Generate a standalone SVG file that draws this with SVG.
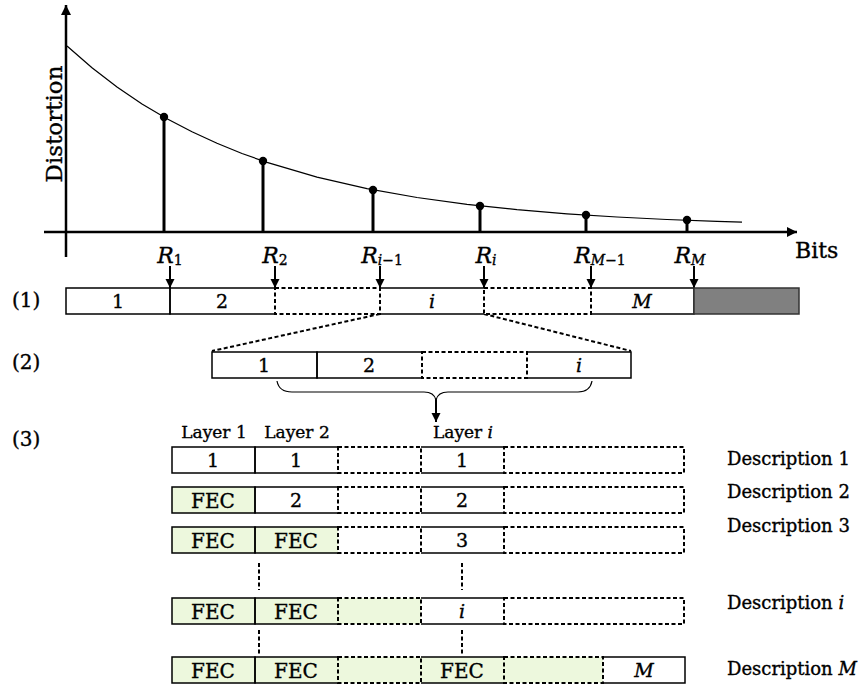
<svg xmlns="http://www.w3.org/2000/svg" width="867" height="684" viewBox="0 0 867 684">
<style>
text{font-family:"DejaVu Serif","Liberation Serif",serif;fill:#000;stroke:#000;stroke-width:0.35}
.it{font-style:italic}
.s{fill:none;stroke:#000;stroke-width:1.5}
.d{stroke:#000;stroke-width:2;stroke-dasharray:4 2.5}
.w{fill:#fff}
.g{fill:#edf8dd}
.nf{stroke:none}
.ax{fill:none;stroke:#000;stroke-width:2.5}
.stem{stroke:#000;stroke-width:3}
.arr{stroke:#000;stroke-width:2;marker-end:url(#ah)}
.dl{fill:none;stroke:#000;stroke-width:2;stroke-dasharray:4 2.5}
.lbl{font-size:20px}
.num{font-size:19px;text-anchor:middle}
.fec{font-size:20px;text-anchor:middle}
.r{font-size:22px;font-style:italic}
.sub{font-size:14px}
.desc{font-size:18px}
</style>
<defs>
<marker id="ah" viewBox="0 0 10 10" refX="10" refY="5" markerWidth="9" markerHeight="10" markerUnits="userSpaceOnUse" orient="auto"><path d="M0,0 L10,5 L0,10 z" fill="#000"/></marker>
<marker id="axh" viewBox="0 0 10 10" refX="10" refY="5" markerWidth="10" markerHeight="10" markerUnits="userSpaceOnUse" orient="auto"><path d="M0,0 L10,5 L0,10 z" fill="#000"/></marker>
</defs>

<g id="chart">
<line class="ax" x1="66" y1="257" x2="66" y2="5" marker-end="url(#axh)"/>
<line class="ax" x1="44" y1="232" x2="797" y2="232" marker-end="url(#axh)"/>
<polyline fill="none" stroke="#000" stroke-width="1.2" points="67,46 92,67.8 117,87 142,103.9 167,118.7 192,131.8 217,143.3 242,153.5 267,162.4 317,177.1 367,188.6 417,197.5 467,204.3 517,209.7 567,213.8 617,217 667,219.5 717,221.4 742,222.2"/>
<line class="stem" x1="164" y1="117" x2="164" y2="232"/>
<line class="stem" x1="263" y1="161" x2="263" y2="232"/>
<line class="stem" x1="373" y1="190" x2="373" y2="232"/>
<line class="stem" x1="480" y1="206" x2="480" y2="232"/>
<line class="stem" x1="586" y1="215" x2="586" y2="232"/>
<line class="stem" x1="687" y1="220" x2="687" y2="232"/>
<circle cx="164" cy="117" r="4.2"/>
<circle cx="263" cy="161" r="4.2"/>
<circle cx="373" cy="190" r="4.2"/>
<circle cx="480" cy="206" r="4.2"/>
<circle cx="586" cy="215" r="4.2"/>
<circle cx="687" cy="220" r="4.2"/>
<text transform="translate(62,124) rotate(-90)" text-anchor="middle" font-size="23">Distortion</text>
<text x="795" y="258" font-size="22">Bits</text>
</g>

<g id="rate-labels">
<text class="r" x="170" y="263" text-anchor="middle">R<tspan class="sub" font-style="normal" dy="2">1</tspan></text>
<text class="r" x="275" y="263" text-anchor="middle">R<tspan class="sub" font-style="normal" dy="2">2</tspan></text>
<text class="r" x="382" y="263" text-anchor="middle">R<tspan class="sub" dy="2">i</tspan><tspan class="sub" font-style="normal">−1</tspan></text>
<text class="r" x="486" y="263" text-anchor="middle">R<tspan class="sub" dy="2">i</tspan></text>
<text class="r" x="600" y="263" text-anchor="middle">R<tspan class="sub" dy="2">M</tspan><tspan class="sub" font-style="normal">−1</tspan></text>
<text class="r" x="690" y="263" text-anchor="middle">R<tspan class="sub" dy="2">M</tspan></text>
</g>

<g id="connectors">
<line class="arr" x1="170" y1="266" x2="170" y2="288"/>
<line class="arr" x1="275" y1="266" x2="275" y2="288"/>
<line class="arr" x1="380" y1="266" x2="380" y2="288"/>
<line class="arr" x1="484" y1="266" x2="484" y2="288"/>
<line class="arr" x1="591" y1="266" x2="591" y2="288"/>
<line class="arr" x1="694" y1="266" x2="694" y2="288"/>
<line class="dl" x1="380" y1="314" x2="212" y2="351"/>
<line class="dl" x1="484" y1="314" x2="631" y2="351"/>
<path d="M277,381 Q279,392 292,392 H424 Q434,392 436,400 Q438,392 448,392 H578 Q590,392 592,381" fill="none" stroke="#000" stroke-width="1.2"/>
<line class="arr" x1="436" y1="399" x2="436" y2="422"/>
<line class="dl" x1="259" y1="563" x2="259" y2="590"/>
<line class="dl" x1="462" y1="563" x2="462" y2="590"/>
<line class="dl" x1="259" y1="630" x2="259" y2="654"/>
<line class="dl" x1="462" y1="630" x2="462" y2="654"/>
</g>

<g id="bar1">
<rect class="w nf" x="66" y="288" width="628" height="26"/>
<rect class="s" x="66" y="288" width="104" height="26"/>
<path class="s" d="M275,288 H170 V314 H275"/>
<path class="s" d="M380,288 H484 M380,314 H484"/>
<path class="s" d="M591,288 H694 V314 H591"/>
<rect class="d" fill="none" x="275" y="288" width="105" height="26"/>
<rect class="d" fill="none" x="484" y="288" width="107" height="26"/>
<rect x="694" y="288" width="105" height="26" fill="#808080" stroke="#333" stroke-width="1.5"/>
<text class="num" x="118" y="308">1</text>
<text class="num" x="222" y="308">2</text>
<text class="num it" x="432" y="308">i</text>
<text class="num it" x="642" y="308">M</text>
<text class="lbl" x="12" y="307">(1)</text>
</g>

<g id="bar2">
<rect class="w nf" x="212" y="352" width="419" height="26"/>
<rect class="s" x="212" y="352" width="105" height="26"/>
<path class="s" d="M422,352 H317 V378 H422"/>
<path class="s" d="M527,352 H631 V378 H527"/>
<rect class="d" fill="none" x="422" y="352" width="105" height="26"/>
<text class="num" x="264" y="372">1</text>
<text class="num" x="369" y="372">2</text>
<text class="num it" x="579" y="372">i</text>
<text class="lbl" x="12" y="369">(2)</text>
</g>

<g id="layer-labels">
<text class="lbl" x="12" y="446">(3)</text>
<text x="214" y="438" font-size="17" text-anchor="middle">Layer 1</text>
<text x="297" y="438" font-size="17" text-anchor="middle">Layer 2</text>
<text x="463" y="438" font-size="17" text-anchor="middle">Layer <tspan class="it">i</tspan></text>
</g>

<g id="desc1">
<rect class="w nf" x="172" y="447" width="512" height="26"/>
<rect class="s" x="172" y="447" width="83" height="26"/>
<path class="s" d="M338,447 H255 V473 H338"/>
<path class="s" d="M421,447 H504 M421,473 H504"/>
<rect class="d" fill="none" x="338" y="447" width="83" height="26"/>
<rect class="d" fill="none" x="504" y="447" width="180" height="26"/>
<text class="num" x="213" y="467">1</text>
<text class="num" x="296" y="467">1</text>
<text class="num" x="462" y="467">1</text>
<text class="desc" x="727" y="465">Description 1</text>
</g>

<g id="desc2">
<rect class="w nf" x="255" y="487" width="429" height="26"/>
<rect class="s g" x="172" y="487" width="83" height="26"/>
<path class="s" d="M338,487 H255 V513 H338"/>
<path class="s" d="M421,487 H504 M421,513 H504"/>
<rect class="d" fill="none" x="338" y="487" width="83" height="26"/>
<rect class="d" fill="none" x="504" y="487" width="180" height="26"/>
<text class="fec" x="213" y="508">FEC</text>
<text class="num" x="296" y="507">2</text>
<text class="num" x="462" y="507">2</text>
<text class="desc" x="727" y="498">Description 2</text>
</g>

<g id="desc3">
<rect class="w nf" x="338" y="527" width="346" height="26"/>
<rect class="g nf" x="255" y="527" width="83" height="26"/>
<rect class="s g" x="172" y="527" width="83" height="26"/>
<path class="s" d="M338,527 H255 V553 H338"/>
<path class="s" d="M421,527 H504 M421,553 H504"/>
<rect class="d" fill="none" x="338" y="527" width="83" height="26"/>
<rect class="d" fill="none" x="504" y="527" width="180" height="26"/>
<text class="fec" x="213" y="548">FEC</text>
<text class="fec" x="296" y="548">FEC</text>
<text class="num" x="462" y="547">3</text>
<text class="desc" x="727" y="532">Description 3</text>
</g>

<g id="desci">
<rect class="w nf" x="421" y="598" width="263" height="26"/>
<rect class="g nf" x="255" y="598" width="166" height="26"/>
<rect class="s g" x="172" y="598" width="83" height="26"/>
<path class="s" d="M338,598 H255 V624 H338"/>
<path class="s" d="M421,598 H504 M421,624 H504"/>
<rect class="d" fill="none" x="338" y="598" width="83" height="26"/>
<rect class="d" fill="none" x="504" y="598" width="180" height="26"/>
<text class="fec" x="213" y="619">FEC</text>
<text class="fec" x="296" y="619">FEC</text>
<text class="num it" x="462" y="618">i</text>
<text class="desc" x="727" y="609">Description <tspan class="it">i</tspan></text>
</g>

<g id="descM">
<rect class="g nf" x="255" y="657" width="348" height="26"/>
<rect class="w nf" x="603" y="657" width="82" height="26"/>
<rect class="s g" x="172" y="657" width="83" height="26"/>
<path class="s" d="M338,657 H255 V683 H338"/>
<path class="s" d="M421,657 H504 M421,683 H504"/>
<path class="s" d="M603,657 H685 V683 H603"/>
<rect class="d" fill="none" x="338" y="657" width="83" height="26"/>
<rect class="d" fill="none" x="504" y="657" width="99" height="26"/>
<text class="fec" x="213" y="678">FEC</text>
<text class="fec" x="296" y="678">FEC</text>
<text class="fec" x="462" y="678">FEC</text>
<text class="num it" x="644" y="677">M</text>
<text class="desc" x="727" y="675">Description <tspan class="it">M</tspan></text>
</g>
</svg>
